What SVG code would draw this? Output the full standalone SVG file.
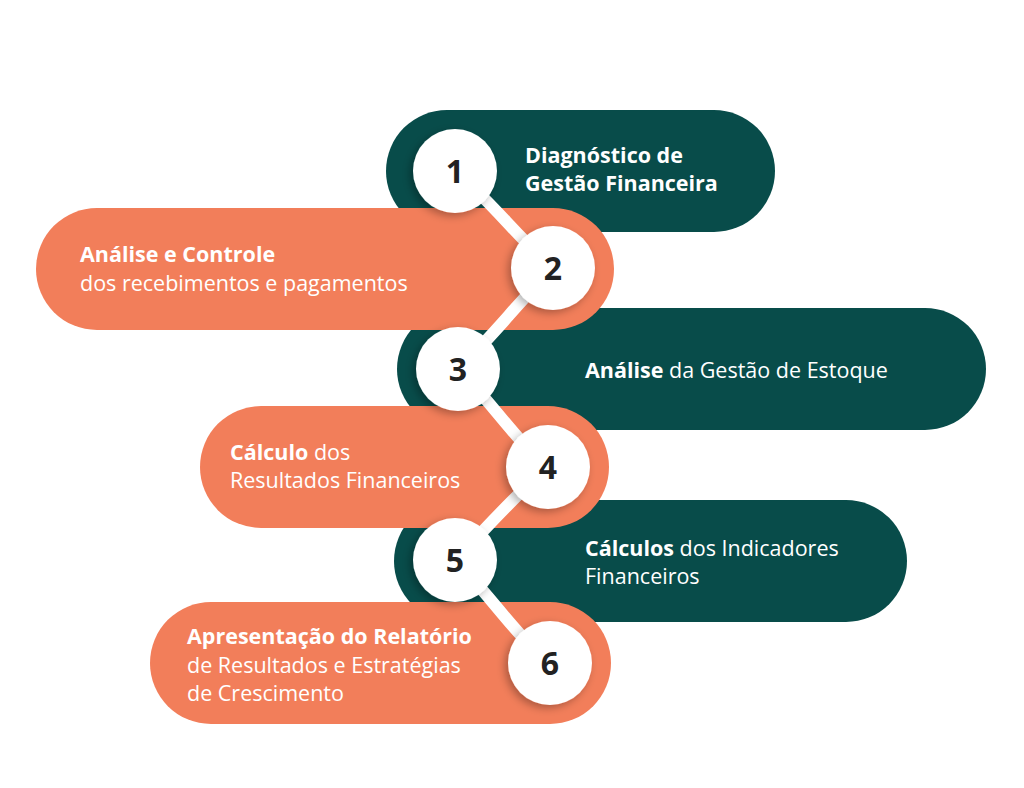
<svg xmlns="http://www.w3.org/2000/svg" width="1024" height="788" viewBox="0 0 1024 788">
<defs>
<style>
.t{fill:#084c4a}.o{fill:#f27e5a}
.c{fill:#fff}
.n{font-family:"Open Sans","Liberation Sans",sans-serif;font-weight:700;font-size:32px;fill:#222;text-anchor:middle}
.l{font-family:"Open Sans","Noto Sans",sans-serif;font-size:21.5px;fill:#fff}
.b{font-weight:700}
.neck{stroke:#fff;stroke-width:12;fill:none}
</style>
<filter id="sh" x="-30%" y="-30%" width="160%" height="160%"><feDropShadow dx="-3" dy="3" stdDeviation="4" flood-opacity="0.3"/></filter>
</defs>
<g id="pills">
<rect id="p1" class="t" x="386" y="110" width="389" height="122" rx="61"/>
<rect id="p3" class="t" x="397" y="308" width="589" height="122" rx="61"/>
<rect id="p5" class="t" x="394" y="500" width="513" height="122" rx="61"/>
<rect id="p2" class="o" x="36" y="208" width="578" height="122" rx="61"/>
<rect id="p4" class="o" x="200" y="406" width="409" height="122" rx="61"/>
<rect id="p6" class="o" x="150" y="602" width="461" height="122" rx="61"/>
</g>
<g id="connectors">
<path class="neck" d="M455,171 C490,200 520,240 553,268"/>
<path class="neck" d="M553,268 C520,300 490,340 458,369"/>
<path class="neck" d="M458,369 C490,400 515,440 548,467"/>
<path class="neck" d="M548,467 C515,495 485,530 455,560"/>
<path class="neck" d="M455,560 C490,595 515,635 550,663"/>
</g>
<g id="n1"><circle class="c" cx="455" cy="171" r="42" filter="url(#sh)"/><text class="n" x="455" y="183">1</text>
<text class="l b" x="525" y="163">Diagnóstico de</text><text class="l b" x="525" y="191">Gestão Financeira</text></g>
<g id="n2"><circle class="c" cx="553" cy="268" r="42" filter="url(#sh)"/><text class="n" x="553" y="280">2</text>
<text class="l b" x="80" y="262">Análise e Controle</text><text class="l" x="80" y="291">dos recebimentos e pagamentos</text></g>
<g id="n3"><circle class="c" cx="458" cy="369" r="42" filter="url(#sh)"/><text class="n" x="458" y="381">3</text>
<text class="l" x="585" y="378"><tspan class="b">Análise</tspan> da Gestão de Estoque</text></g>
<g id="n4"><circle class="c" cx="548" cy="467" r="42" filter="url(#sh)"/><text class="n" x="548" y="479">4</text>
<text class="l" x="230" y="460"><tspan class="b">Cálculo</tspan> dos</text><text class="l" x="230" y="488">Resultados Financeiros</text></g>
<g id="n5"><circle class="c" cx="455" cy="560" r="42" filter="url(#sh)"/><text class="n" x="455" y="572">5</text>
<text class="l" x="585" y="556"><tspan class="b">Cálculos</tspan> dos Indicadores</text><text class="l" x="585" y="584">Financeiros</text></g>
<g id="n6"><circle class="c" cx="550" cy="663" r="42" filter="url(#sh)"/><text class="n" x="550" y="675">6</text>
<text class="l b" x="187" y="644">Apresentação do Relatório</text><text class="l" x="187" y="673">de Resultados e Estratégias</text><text class="l" x="187" y="701">de Crescimento</text></g>
</svg>
